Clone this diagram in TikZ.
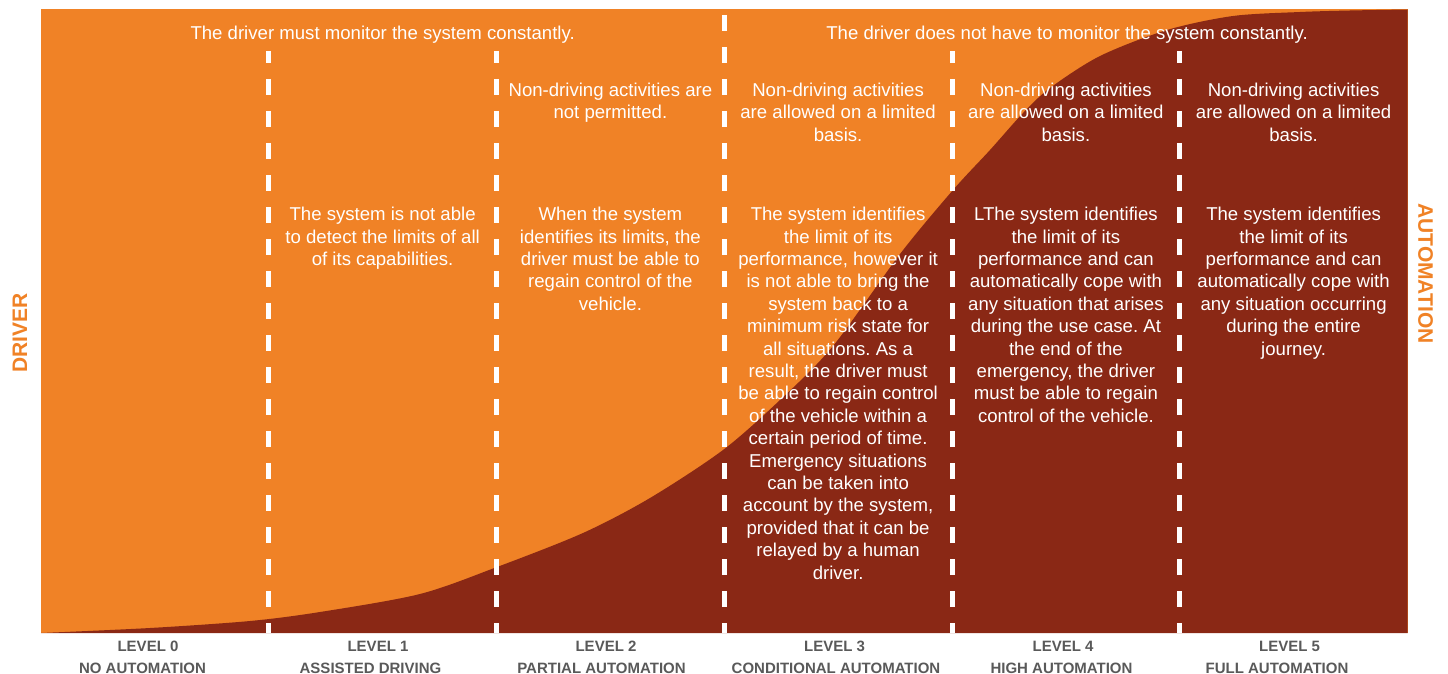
\documentclass[tikz,border=0pt]{standalone}
\usepackage{fontspec}
\setmainfont{Liberation Sans}
\definecolor{orng}{RGB}{240,130,38}
\definecolor{drk}{RGB}{138,40,21}
\definecolor{lvlgray}{RGB}{89,89,89}
\begin{document}
\begin{tikzpicture}[x=1pt,y=-1pt,
  txt/.style={text=white, font=\frenchspacing\fontsize{18.6}{22.4}\selectfont, align=center, inner sep=0pt, anchor=north},
  lvl/.style={text=lvlgray, font=\bfseries\fontsize{15}{22}\selectfont, inner sep=0pt, anchor=base},
  side/.style={text=orng, font=\bfseries\fontsize{21}{24}\selectfont, inner sep=0pt},
  dashln/.style={draw=white, line width=5pt, dash pattern=on 16pt off 16pt}]
\useasboundingbox (0,0) rectangle (1448,674);
% panel
\fill[orng] (41,9) rectangle (1407.5,633);
\fill[drk] plot[smooth, tension=0.5] coordinates {(41,633) (150,628) (250,621) (320,612) (420,594) (497,567) (583,533) (650,498) (723,450) (780,400) (833,346) (900,254) (953,190) (990,150) (1023,113) (1050,88) (1100,56) (1167,30) (1233,16) (1300,12) (1350,10.5) (1407.5,9.5)} -- (1407.5,633) -- cycle;
% dashed separators
\coordinate (s1t) at (268.75,51);  \coordinate (s1b) at (268.75,633);
\coordinate (s2t) at (496.5,51);   \coordinate (s2b) at (496.5,633);
\coordinate (s3t) at (724.25,15);  \coordinate (s3b) at (724.25,633);
\coordinate (s4t) at (952,51);     \coordinate (s4b) at (952,633);
\coordinate (s5t) at (1179.75,51); \coordinate (s5b) at (1179.75,633);
\draw[dashln, dash phase=4pt] (s1t) -- (s1b);
\draw[dashln, dash phase=4pt] (s2t) -- (s2b);
\draw[dashln] (s3t) -- (s3b);
\draw[dashln, dash phase=4pt] (s4t) -- (s4b);
\draw[dashln, dash phase=4pt] (s5t) -- (s5b);
% top row
\node[txt] (topl) at (382.6,26) {The driver must monitor the system constantly.};
\node[txt] (topr) at (1067,26) {The driver does not have to monitor the system constantly.};
% second row
\node[txt] (a2) at (610.4,82.7) {Non-driving activities are\\not permitted.};
\node[txt] (a3) at (838.1,82.7) {Non-driving activities\\are allowed on a limited\\basis.};
\node[txt] (a4) at (1065.9,82.7) {Non-driving activities\\are allowed on a limited\\basis.};
\node[txt] (a5) at (1293.6,82.7) {Non-driving activities\\are allowed on a limited\\basis.};
% third row
\node[txt] (b1) at (382.6,207) {The system is not able\\to detect the limits of all\\of its capabilities.};
\node[txt] (b2) at (610.4,207) {When the system\\identifies its limits, the\\driver must be able to\\regain control of the\\vehicle.};
\node[txt] (b3) at (838.1,207) {The system identifies\\the limit of its\\performance, however it\\is not able to bring the\\system back to a\\minimum risk state for\\all situations. As a\\result, the driver must\\be able to regain control\\of the vehicle within a\\certain period of time.\\Emergency situations\\can be taken into\\account by the system,\\provided that it can be\\relayed by a human\\driver.};
\node[txt] (b4) at (1065.9,207) {LThe system identifies\\the limit of its\\performance and can\\automatically cope with\\any situation that arises\\during the use case. At\\the end of the\\emergency, the driver\\must be able to regain\\control of the vehicle.};
\node[txt] (b5) at (1293.6,207) {The system identifies\\the limit of its\\performance and can\\automatically cope with\\any situation occurring\\during the entire\\journey.};
% level labels
\node[lvl] (l0) at (148,651.5) {LEVEL 0};
\node[lvl] (n0) at (142.5,673.5) {NO AUTOMATION};
\node[lvl] (l1) at (378,651.5) {LEVEL 1};
\node[lvl] (n1) at (370.5,673.5) {ASSISTED DRIVING};
\node[lvl] (l2) at (606,651.5) {LEVEL 2};
\node[lvl] (n2) at (601.5,673.5) {PARTIAL AUTOMATION};
\node[lvl] (l3) at (834.5,651.5) {LEVEL 3};
\node[lvl] (n3) at (836,673.5) {CONDITIONAL AUTOMATION};
\node[lvl] (l4) at (1063,651.5) {LEVEL 4};
\node[lvl] (n4) at (1061.5,673.5) {HIGH AUTOMATION};
\node[lvl] (l5) at (1289.5,651.5) {LEVEL 5};
\node[lvl] (n5) at (1277,673.5) {FULL AUTOMATION};
% side labels
\node[side, rotate=90] (drv) at (20,333) {DRIVER};
\node[side, rotate=-90] (aut) at (1425.5,273.5) {AUTOMATION};
\end{tikzpicture}
\end{document}
